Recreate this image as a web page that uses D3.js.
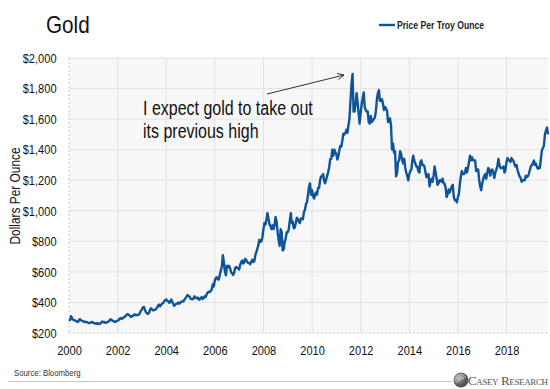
<!DOCTYPE html>
<html>
<head>
<meta charset="utf-8">
<script src="https://cdn.jsdelivr.net/npm/d3@7"></script>
<style>
  body { margin: 0; background: #fff; }
  svg text { font-family: "Liberation Sans", Arial, sans-serif; }
</style>
</head>
<body>
<svg id="chart" width="550" height="389"></svg>
<script>
'use strict';

// semi-monthly gold prices (USD / troy oz), two values per month, Jan 2000 .. Sep 2019
var prices = [
	289,284, 310,296, 288,284, 283,278, 275,272, 287,290, 283,280, 276,272, 274,272, 271,266, 265,267, 271,273, // 2000
	266,264, 262,260, 266,260, 258,262, 270,275, 270,272, 266,268, 272,274, 283,290, 285,280, 278,274, 274,278, // 2001
	281,284, 295,298, 292,296, 302,305, 312,320, 324,318, 315,306, 308,312, 318,322, 316,318, 318,320, 330,345, // 2002
	355,368, 370,350, 338,330, 325,330, 350,362, 356,348, 350,352, 358,365, 380,386, 375,385, 392,396, 408,414, // 2003
	420,410, 408,398, 402,420, 405,390, 378,385, 392,392, 400,392, 400,405, 406,408, 418,428, 438,448, 440,440, // 2004
	424,422, 420,430, 440,428, 428,432, 420,418, 430,435, 422,428, 440,436, 455,465, 470,468, 475,486, 520,505, // 2005
	545,560, 565,550, 550,580, 610,635, 710,665, 600,578, 640,630, 640,625, 600,590, 580,590, 625,632, 625,625, // 2006
	615,645, 665,675, 655,660, 685,680, 665,660, 658,650, 665,680, 665,668, 710,730, 750,775, 810,795, 800,825, // 2007
	880,920, 910,945, 985,950, 910,900, 880,905, 880,905, 960,930, 860,810, 770,880, 860,740, 750,800, 820,860, // 2008
	860,880, 940,985, 920,930, 885,890, 920,955, 945,930, 920,950, 950,945, 995,1005, 1045,1055, 1105,1160, 1180,1105, // 2009
	1135,1095, 1080,1110, 1120,1105, 1150,1150, 1200,1225, 1225,1240, 1195,1180, 1205,1230, 1255,1290, 1340,1340, 1400,1360, 1400,1385, // 2010
	1370,1335, 1360,1400, 1425,1420, 1460,1505, 1500,1510, 1530,1510, 1560,1600, 1720,1830, 1895,1650, 1650,1700, 1770,1710, 1640,1570, // 2011
	1640,1700, 1740,1775, 1680,1660, 1650,1650, 1580,1570, 1620,1580, 1590,1600, 1610,1650, 1730,1770, 1790,1720, 1720,1730, 1700,1660, // 2012
	1680,1670, 1650,1580, 1590,1605, 1560,1400, 1440,1380, 1390,1225, 1250,1320, 1330,1390, 1370,1330, 1310,1340, 1280,1250, 1230,1200, // 2013
	1240,1260, 1270,1330, 1360,1330, 1310,1290, 1290,1260, 1250,1320, 1330,1300, 1300,1290, 1250,1220, 1230,1240, 1160,1190, 1210,1190, // 2014
	1230,1290, 1250,1210, 1170,1180, 1200,1200, 1190,1210, 1180,1175, 1150,1090, 1110,1140, 1120,1140, 1160,1170, 1090,1070, 1070,1055, // 2015
	1090,1110, 1180,1230, 1260,1240, 1240,1250, 1280,1250, 1280,1320, 1360,1330, 1350,1330, 1330,1330, 1260,1270, 1270,1200, 1160,1135, // 2016
	1180,1210, 1230,1240, 1210,1245, 1280,1270, 1230,1260, 1270,1250, 1215,1250, 1270,1290, 1340,1300, 1280,1280, 1280,1290, 1250,1270, // 2017
	1320,1345, 1330,1330, 1320,1345, 1335,1325, 1305,1290, 1300,1265, 1245,1225, 1215,1190, 1200,1200, 1200,1230, 1220,1225, 1240,1265, // 2018
	1290,1300, 1310,1330, 1300,1310, 1290,1275, 1285,1280, 1340,1395, 1410,1425, 1500,1525, 1545,1500                                  // 2019
];

var yTicks = [200, 400, 600, 800, 1000, 1200, 1400, 1600, 1800, 2000];
var xTickYears = [2000, 2002, 2004, 2006, 2008, 2010, 2012, 2014, 2016, 2018];
var title = 'Gold';
var seriesName = 'Price Per Troy Ounce';
var yTitle = 'Dollars Per Ounce';
var note = ['I expect gold to take out', 'its previous high'];
var source = 'Source: Bloomberg';

var NARROW = 0.82; // no Arial Narrow available, so squeeze Liberation Sans

var data = prices.map(function(v, i) {
	return { date: new Date(2000, Math.floor(i / 2), i % 2 ? 16 : 1), value: v };
});

var svg = d3.select('#chart');
var m = { left: 69, right: 2, top: 58, bottom: 56 };
var W = 550, H = 389;

// place a text at (x,y), squeezed horizontally
function label(px, py, str, size, sx) {
	return svg.append('text')
		.attr('transform', `translate(${px},${py}) scale(${sx || NARROW},1)`)
		.attr('font-size', size)
		.attr('fill', '#111')
		.text(str);
}

var x = d3.scaleTime()
	.domain([data[0].date, data[data.length - 1].date])
	.range([m.left, W - m.right]);
var y = d3.scaleLinear().domain([200, 2000]).range([H - m.bottom, m.top]);

// - plot background
svg.append('rect')
	.attr('x', m.left).attr('y', m.top)
	.attr('width', W - m.right - m.left).attr('height', H - m.bottom - m.top)
	.attr('fill', '#f7f7f7');

// - grid
svg.append('g').selectAll('line')
	.data(yTicks.slice(1))
	.join('line')
		.attr('x1', m.left).attr('x2', W - m.right)
		.attr('y1', d => y(d)).attr('y2', d => y(d))
		.attr('stroke', '#e2e2e2');

svg.append('g').selectAll('line')
	.data(xTickYears.slice(1))
	.join('line')
		.attr('x1', d => x(new Date(d, 0, 1))).attr('x2', d => x(new Date(d, 0, 1)))
		.attr('y1', m.top).attr('y2', H - m.bottom)
		.attr('stroke', '#e2e2e2');

// dotted left / bottom edges
svg.append('line')
	.attr('x1', m.left).attr('x2', m.left).attr('y1', m.top).attr('y2', H - m.bottom)
	.attr('stroke', '#c8c8c8').attr('stroke-dasharray', '2,2');
svg.append('line')
	.attr('x1', m.left).attr('x2', W - m.right).attr('y1', H - m.bottom).attr('y2', H - m.bottom)
	.attr('stroke', '#c8c8c8').attr('stroke-dasharray', '2,2');

// - axes
var yAxis = svg.append('g')
	.attr('transform', `translate(${m.left - 10},0)`)
	.call(d3.axisLeft(y).tickValues(yTicks).tickSize(0).tickFormat(d => '$' + d3.format(',')(d)));
var xAxis = svg.append('g')
	.attr('transform', `translate(0,${H - m.bottom + 9})`)
	.call(d3.axisBottom(x).tickValues(xTickYears.map(d => new Date(d, 0, 1))).tickSize(0).tickFormat(d3.timeFormat('%Y')));

[yAxis, xAxis].forEach(function(ax) {
	ax.select('.domain').remove();
	ax.selectAll('text')
		.attr('fill', '#111')
		.attr('transform', `scale(${NARROW},1)`)
		.style('font-size', '13.5px')
		.style('font-family', null);
});

svg.append('text')
	.attr('transform', `translate(20,196) rotate(-90) scale(${NARROW},1)`)
	.attr('text-anchor', 'middle')
	.attr('font-size', 14.5)
	.attr('fill', '#111')
	.text(yTitle);

// - series
svg.append('path')
	.datum(data)
	.attr('fill', 'none')
	.attr('stroke', '#0d5498')
	.attr('stroke-width', 2.4)
	.attr('stroke-linejoin', 'round')
	.attr('d', d3.line().x(d => x(d.date)).y(d => y(d.value)));

// - title & legend
label(46, 33, title, 23, 0.9);

svg.append('line')
	.attr('x1', 379).attr('x2', 395).attr('y1', 25).attr('y2', 25)
	.attr('stroke', '#0d5498').attr('stroke-width', 2.4);
label(397, 28.5, seriesName, 10.5).attr('font-weight', 'bold').attr('fill', '#222');

// - annotation
note.forEach((d, i) => label(143, 115 + i * 23, d, 19.5));

svg.append('line')
	.attr('x1', 267).attr('y1', 94).attr('x2', 344).attr('y2', 75)
	.attr('stroke', '#333').attr('stroke-width', 1);
svg.append('path')
	.attr('d', 'M337,73.5 L344,75 L338.5,79.5')
	.attr('fill', 'none').attr('stroke', '#333').attr('stroke-width', 1);

// - footer
label(14, 376, source, 9.5).attr('fill', '#333');

svg.append('line')
	.attr('x1', 8).attr('x2', 452).attr('y1', 381.5).attr('y2', 381.5)
	.attr('stroke', '#c8c8c8').attr('stroke-width', 1);

// logo: swirl mark + small caps wordmark
var logo = svg.append('g').attr('transform', 'translate(461,380)');
var grad = svg.append('defs').append('radialGradient').attr('id', 'lg').attr('cx', '35%').attr('cy', '35%');
grad.append('stop').attr('offset', '0%').attr('stop-color', '#bbb');
grad.append('stop').attr('offset', '100%').attr('stop-color', '#555');
logo.append('circle').attr('r', 7.5).attr('fill', 'url(#lg)');
[5.5, 3.5, 1.8].forEach(function(r) {
	logo.append('path')
		.attr('d', d3.arc()({ innerRadius: r - 0.5, outerRadius: r, startAngle: -2.2, endAngle: 1.2 }))
		.attr('fill', '#eee');
});
svg.append('text')
	.attr('x', 468).attr('y', 385)
	.style('font-family', '"Liberation Serif", "DejaVu Serif", serif')
	.style('font-variant', 'small-caps')
	.attr('font-size', 13)
	.attr('textLength', 80)
	.attr('fill', '#555')
	.text('Casey Research');
</script>
</body>
</html>
